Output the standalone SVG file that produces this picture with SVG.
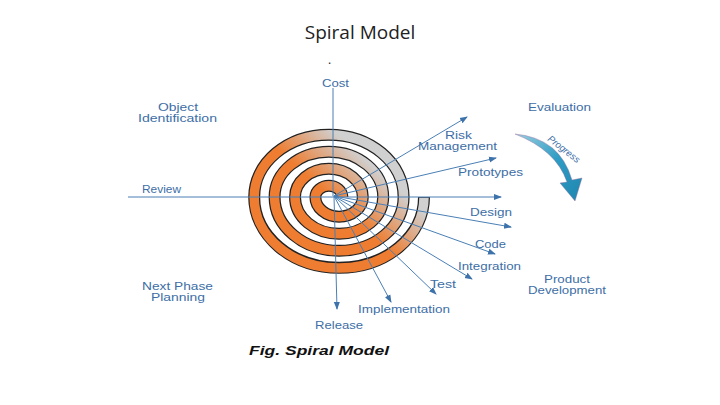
<svg xmlns="http://www.w3.org/2000/svg" width="720" height="405" viewBox="0 0 720 405">
<style>
.t{font-family:"Liberation Sans",Arial,sans-serif;font-size:11px;fill:#3d6ea6}
.c{stroke:#4a7fb5;stroke-width:1;fill:none}
</style>
<defs>
<marker id="a" markerWidth="8" markerHeight="8" refX="7" refY="4" orient="auto" markerUnits="userSpaceOnUse"><path d="M0,1 L8,4 L0,7 Z" fill="#3d72ab"/></marker>
<linearGradient id="g" gradientUnits="userSpaceOnUse" x1="300" y1="250" x2="400" y2="140">
<stop offset="0.4" stop-color="#ee7d31"/><stop offset="0.75" stop-color="#d0d0d0"/></linearGradient>
<linearGradient id="p" x1="0" y1="0" x2="1" y2="1"><stop offset="0" stop-color="#9ccfe0"/><stop offset="0.5" stop-color="#2e9cc4"/><stop offset="1" stop-color="#1f86b0"/></linearGradient>
</defs>
<rect width="720" height="405" fill="#fff"/>
<text x="360" y="39" text-anchor="middle" style="font-family:'Open Sans',sans-serif;font-size:19px;fill:#222">Spiral Model</text>
<text x="328" y="64" style="font-family:'Open Sans',sans-serif;font-size:12px;fill:#222">.</text>
<g id="spiral">
<path d="M424,197 A84.9,70.75 0 0 1 254.2,197 A74.7,62.25 0 0 1 403.6,197 A64.5,53.75 0 0 1 274.6,197 A54.3,45.25 0 0 1 383.2,197 A44.1,36.75 0 0 1 295,197 A33.9,28.25 0 0 1 362.8,197 A23.7,19.75 0 0 1 315.4,197 A13.5,11.25 0 0 1 342.4,197" fill="none" stroke="#222" stroke-width="12"/>
<path d="M424,197.8 A84.9,70.75 0 0 1 254.2,197 A74.7,62.25 0 0 1 403.6,197 A64.5,53.75 0 0 1 274.6,197 A54.3,45.25 0 0 1 383.2,197 A44.1,36.75 0 0 1 295,197 A33.9,28.25 0 0 1 362.8,197 A23.7,19.75 0 0 1 315.4,197 A13.5,11.25 0 0 1 342.4,197" fill="none" stroke="url(#g)" stroke-width="9.5"/>
</g>
<g id="connectors">
<line class="c" x1="333" y1="196" x2="333" y2="88"/>
<line class="c" x1="128" y1="197" x2="501" y2="197" marker-end="url(#a)"/>
<line class="c" x1="334" y1="196" x2="467" y2="117" marker-end="url(#a)"/>
<line class="c" x1="334" y1="196" x2="496" y2="158" marker-end="url(#a)"/>
<line class="c" x1="334" y1="196" x2="511" y2="227" marker-end="url(#a)"/>
<line class="c" x1="334" y1="196" x2="495" y2="254" marker-end="url(#a)"/>
<line class="c" x1="334" y1="196" x2="472" y2="279" marker-end="url(#a)"/>
<line class="c" x1="334" y1="196" x2="436" y2="294" marker-end="url(#a)"/>
<line class="c" x1="334" y1="196" x2="391" y2="302" marker-end="url(#a)"/>
<line class="c" x1="334" y1="196" x2="337" y2="309" marker-end="url(#a)"/>
</g>
<g id="labels">
<text class="t" x="322" y="87" textLength="27" lengthAdjust="spacingAndGlyphs">Cost</text>
<text class="t" x="158" y="111" textLength="40" lengthAdjust="spacingAndGlyphs">Object</text>
<text class="t" x="138" y="122" textLength="79" lengthAdjust="spacingAndGlyphs">Identification</text>
<text class="t" x="528" y="111" textLength="63" lengthAdjust="spacingAndGlyphs">Evaluation</text>
<text class="t" x="445" y="139" textLength="27" lengthAdjust="spacingAndGlyphs">Risk</text>
<text class="t" x="418" y="150" textLength="79" lengthAdjust="spacingAndGlyphs">Management</text>
<text class="t" x="458" y="176" textLength="65" lengthAdjust="spacingAndGlyphs">Prototypes</text>
<text class="t" x="142" y="193" textLength="39" lengthAdjust="spacingAndGlyphs">Review</text>
<text class="t" x="470" y="216" textLength="42" lengthAdjust="spacingAndGlyphs">Design</text>
<text class="t" x="475" y="248" textLength="31" lengthAdjust="spacingAndGlyphs">Code</text>
<text class="t" x="458" y="270" textLength="63" lengthAdjust="spacingAndGlyphs">Integration</text>
<text class="t" x="430" y="288" textLength="26" lengthAdjust="spacingAndGlyphs">Test</text>
<text class="t" x="358" y="313" textLength="92" lengthAdjust="spacingAndGlyphs">Implementation</text>
<text class="t" x="315" y="329" textLength="48" lengthAdjust="spacingAndGlyphs">Release</text>
<text class="t" x="142" y="290" textLength="71" lengthAdjust="spacingAndGlyphs">Next Phase</text>
<text class="t" x="151" y="301" textLength="54" lengthAdjust="spacingAndGlyphs">Planning</text>
<text class="t" x="544" y="283" textLength="46" lengthAdjust="spacingAndGlyphs">Product</text>
<text class="t" x="528" y="294" textLength="78" lengthAdjust="spacingAndGlyphs">Development</text>
</g>
<g id="progress">
<path d="M515,134 Q560,138 572,180 L582,178 L575,201 L560,183 L567,182 Q556,150 515,134 Z" fill="url(#p)" stroke="#9a6a9a" stroke-width="0.4"/>
<text x="547" y="140" transform="rotate(38 547 140)" style="font-family:'Liberation Sans',Arial,sans-serif;font-size:9.5px;font-style:italic;fill:#3d6ea6">Progress</text>
</g>
<text x="249" y="355" textLength="140" lengthAdjust="spacingAndGlyphs" style="font-family:'Liberation Sans',Arial,sans-serif;font-size:13px;font-weight:bold;font-style:italic;fill:#111">Fig. Spiral Model</text>
</svg>
